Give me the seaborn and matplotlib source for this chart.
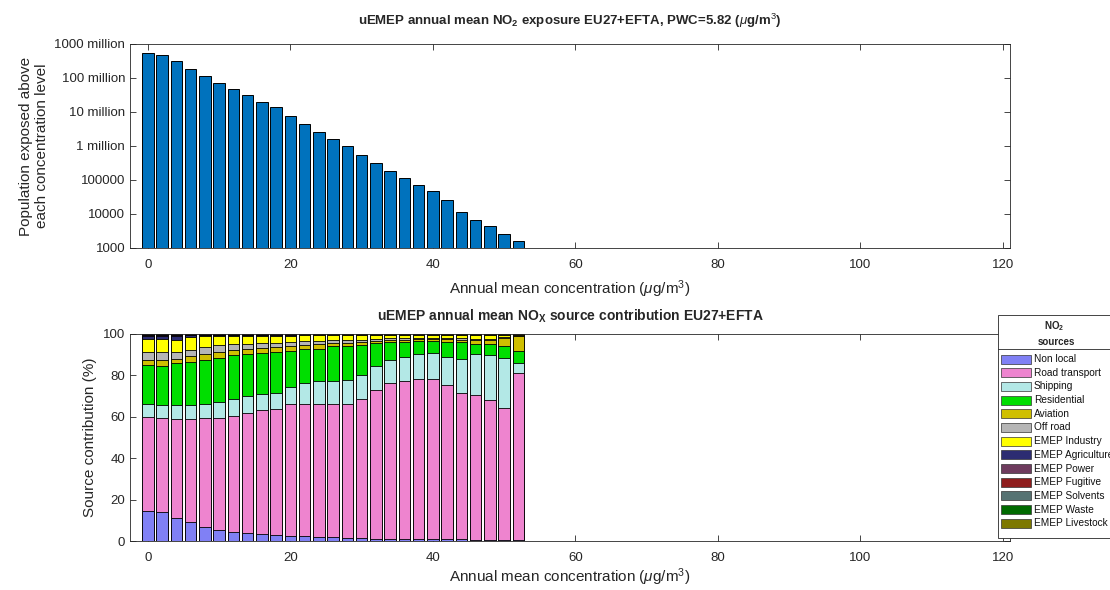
import numpy as np
import matplotlib
matplotlib.use("Agg")
import matplotlib.pyplot as plt
import seaborn as sns
from matplotlib.patches import Rectangle
from matplotlib.lines import Line2D

# concentration classes (ug/m3)
conc = np.arange(0, 54, 2)

# population exposed above each concentration level
population = [5.4e8, 4.6e8, 3.1e8, 1.83e8, 1.17e8, 7.3e7, 4.6e7, 3.1e7, 2.0e7,
              1.37e7, 7.5e6, 4.3e6, 2.55e6, 1.63e6, 9.8e5, 5.6e5, 3.2e5, 1.9e5,
              1.15e5, 7.3e4, 4.7e4, 2.5e4, 1.17e4, 6.7e3, 4.3e3, 2.5e3, 1.56e3]

# source contributions (%)
non_local = [14.4, 14.1, 11.2, 9.0, 7.0, 5.4, 4.5, 3.8, 3.2, 2.7, 2.6, 2.2, 1.9, 1.7,
             1.5, 1.3, 1.2, 1.1, 1.0, 0.9, 0.9, 0.8, 0.8, 0.7, 0.7, 0.6, 0.6]
road = [45.5, 45.4, 47.9, 50.0, 52.3, 54.2, 56.1, 58.1, 59.9, 61.1, 63.4, 64.1, 64.1,
        64.6, 64.8, 67.3, 71.9, 75.2, 76.2, 77.3, 77.3, 74.7, 70.7, 69.8, 67.2, 63.8, 80.8]
shipping = [6.1, 6.2, 6.6, 6.7, 7.0, 7.7, 8.0, 8.3, 7.9, 7.5, 8.2, 10.0, 11.2, 10.9,
            11.4, 11.5, 11.2, 11.2, 11.6, 11.9, 12.5, 13.3, 16.3, 19.6, 21.8, 24.2, 4.5]
residential = [18.8, 18.8, 20.2, 20.7, 21.2, 21.2, 21.1, 20.0, 20.0, 20.0, 17.8, 16.3,
               15.7, 16.9, 16.7, 14.6, 11.4, 8.5, 7.5, 6.7, 6.1, 7.5, 8.2, 5.3, 5.5, 5.5, 6.1]
aviation = [2.4, 2.7, 2.1, 2.9, 3.0, 3.0, 2.6, 2.7, 2.3, 2.3, 2.2, 2.0, 2.1, 1.5, 1.4,
            1.3, 1.1, 1.1, 1.0, 1.0, 1.0, 1.2, 1.3, 1.6, 1.8, 3.9, 6.8]
off_road = [4.3, 4.0, 3.5, 3.2, 3.1, 3.0, 2.7, 2.4, 2.3, 2.2, 2.0, 1.9, 1.8, 1.3, 1.2,
            1.2, 0.8, 0.8, 0.8, 0.5, 0.5, 0.6, 0.7, 0.8, 0.8, 0.5, 0.2]
industry = [6.1, 6.4, 5.8, 5.9, 5.3, 4.4, 4.0, 3.7, 3.5, 3.4, 3.0, 2.8, 2.5, 2.5, 2.4,
            2.2, 1.9, 1.6, 1.4, 1.3, 1.3, 1.4, 1.5, 1.6, 1.6, 0.8, 0.3]
agriculture = [1.6, 1.6, 1.8, 1.0, 0.6, 0.6, 0.5, 0.5, 0.4, 0.4, 0.4, 0.3, 0.3, 0.3,
               0.3, 0.3, 0.2, 0.2, 0.2, 0.2, 0.2, 0.2, 0.2, 0.3, 0.3, 0.3, 0.3]
power = [0.4, 0.4, 0.5, 0.3, 0.2, 0.2, 0.2, 0.2, 0.2, 0.2, 0.2, 0.2, 0.2, 0.1, 0.1,
         0.1, 0.1, 0.1, 0.1, 0.1, 0.1, 0.1, 0.1, 0.1, 0.1, 0.2, 0.2]
fugitive = [0.1, 0.1, 0.1, 0.1, 0.1, 0.1, 0.1, 0.1, 0.1, 0.1, 0.1, 0.1, 0.1, 0.1, 0.1,
            0.1, 0.1, 0.1, 0.1, 0.05, 0.05, 0.1, 0.1, 0.1, 0.1, 0.1, 0.1]
solvents = [0.2, 0.2, 0.2, 0.1, 0.1, 0.1, 0.1, 0.1, 0.1, 0.05, 0.05, 0.05, 0.05, 0.1,
            0.1, 0.1, 0.1, 0.1, 0.1, 0.05, 0.05, 0.1, 0.1, 0.1, 0.1, 0.1, 0.1]
waste = [0.05] * 27
livestock = [0.05] * 27

sources = ["Non local", "Road transport", "Shipping", "Residential", "Aviation",
           "Off road", "EMEP Industry", "EMEP Agriculture", "EMEP Power",
           "EMEP Fugitive", "EMEP Solvents", "EMEP Waste", "EMEP Livestock"]
shares = [non_local, road, shipping, residential, aviation, off_road, industry,
          agriculture, power, fugitive, solvents, waste, livestock]
colors = ["#8080F5", "#EE84CF", "#B3E8E6", "#00DE00", "#CFBF00", "#B5B5B5",
          "#FFFF00", "#2C2C72", "#6E3B5E", "#8E1C1C", "#567272", "#006A00", "#7D7800"]

yticks_top = [1e3, 1e4, 1e5, 1e6, 1e7, 1e8, 1e9]
ylabels_top = ["1000", "10000", "100000", "1 million", "10 million",
               "100 million", "1000 million"]

sns.set_style("ticks")
plt.rcParams["font.family"] = ["Liberation Sans", "DejaVu Sans"]
plt.rcParams["mathtext.fontset"] = "custom"
plt.rcParams["mathtext.rm"] = "Liberation Sans"
plt.rcParams["mathtext.it"] = "Liberation Sans:italic"
plt.rcParams["mathtext.bf"] = "Liberation Sans:bold"

W, H = 1110, 590
fig = plt.figure(figsize=(W / 100, H / 100), dpi=100)
ax1 = fig.add_axes([130 / W, 1 - 248 / H, 880 / W, 204 / H])
ax2 = fig.add_axes([130 / W, 1 - 541 / H, 880 / W, 207 / H])

dark = "#262626"

# top: population exposure
sns.barplot(x=conc, y=population, native_scale=True, width=0.8, color="#0072BD",
            saturation=1, edgecolor="black", linewidth=0.7, errorbar=None, ax=ax1)
ax1.set_yscale("log")
ax1.set_ylim(1e3, 1e9)
ax1.set_yticks(yticks_top)
ax1.set_yticklabels(ylabels_top)
ax1.minorticks_off()
ax1.set_ylabel("Population exposed above\neach concentration level", fontsize=11, color=dark)
ax1.set_title(r"uEMEP annual mean NO$_\mathbf{2}$ exposure EU27+EFTA, PWC=5.82 ($\mu$g/m$^3$)",
              fontsize=9.5, fontweight="bold", pad=14)

# bottom: stacked source contribution
cum = np.cumsum(np.array(shares), axis=0)
for k in range(len(sources) - 1, -1, -1):
    sns.barplot(x=conc, y=cum[k], native_scale=True, width=0.8, color=colors[k],
                saturation=1, edgecolor="black", linewidth=0.6, errorbar=None, ax=ax2)
ax2.set_ylim(0, 100)
ax2.set_yticks([0, 20, 40, 60, 80, 100])
ax2.set_ylabel("Source contribution (%)", fontsize=11, color=dark)
ax2.set_title(r"uEMEP annual mean NO$_\mathbf{X}$ source contribution EU27+EFTA",
              fontsize=10, fontweight="bold", pad=10)

for ax, lp in ((ax1, 5), (ax2, 2)):
    ax.set_xlim(-2.5, 121)
    ax.set_xticks([0, 20, 40, 60, 80, 100, 120])
    ax.set_xlabel(r"Annual mean concentration ($\mu$g/m$^3$)", fontsize=11, color=dark, labelpad=lp)
    ax.tick_params(direction="in", top=True, right=True, length=4, width=0.6,
                   labelsize=9.5, colors=dark)
    ax.tick_params(axis="x", pad=8)
    for s in ax.spines.values():
        s.set_linewidth(0.6)
        s.set_color(dark)

# legend box drawn by hand, running off the right edge like the original
def fx(px):
    return px / W

def fy(py):
    return 1 - py / H

fig.add_artist(Rectangle((fx(998), fy(538)), fx(1116) - fx(998), fy(315) - fy(538),
                         transform=fig.transFigure, facecolor="white",
                         edgecolor=dark, linewidth=0.6))
fig.add_artist(Line2D([fx(998), fx(1116)], [fy(349), fy(349)],
                      transform=fig.transFigure, color=dark, linewidth=0.6))
fig.text(fx(1054), fy(326), r"NO$_\mathbf{2}$", ha="center", va="center",
         fontsize=7, fontweight="bold", color=dark)
fig.text(fx(1056), fy(342), "sources", ha="center", va="center",
         fontsize=7, fontweight="bold", color=dark)
row_y = 359
for name, col in zip(sources, colors):
    fig.add_artist(Rectangle((fx(1001), fy(row_y + 4.5)), fx(30), 9 / H,
                             transform=fig.transFigure, facecolor=col,
                             edgecolor="#333333", linewidth=0.5))
    fig.text(fx(1034), fy(row_y), name, ha="left", va="center", fontsize=7.3, color="#111111")
    row_y += 13.7

fig.savefig("out.png", dpi=100)
